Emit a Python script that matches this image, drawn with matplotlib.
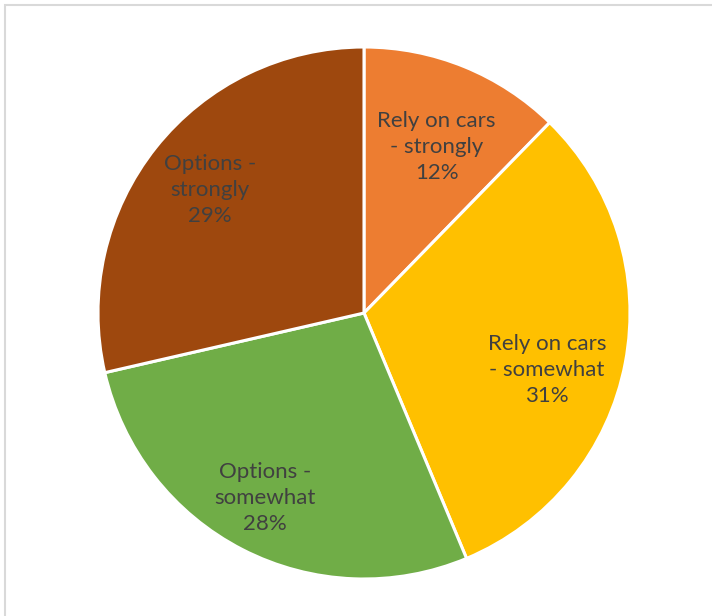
import matplotlib.pyplot as plt
import numpy as np

# slice labels and shares (clockwise from top)
labels = ["Rely on cars\n- strongly", "Rely on cars\n- somewhat", "Options -\nsomewhat", "Options -\nstrongly"]
shares = [12.3, 31.4, 27.7, 28.6]
colors = ["#ED7D31", "#FFC000", "#70AD47", "#9E480E"]

fig = plt.figure(figsize=(7.12, 6.16), dpi=100)
# light chart border
fig.patches.append(plt.Rectangle((5 / 712, -0.1), 1.2, 1 - 5 / 616 + 0.1, transform=fig.transFigure,
                                 fill=False, edgecolor="#d9d9d9", linewidth=1.5))

ax = fig.add_axes([98 / 712, 37 / 616, 532 / 712, 532 / 616])
wedges, _ = ax.pie(shares, colors=colors, startangle=90, counterclock=False, radius=1,
                   wedgeprops=dict(edgecolor="white", linewidth=2.2))
ax.set_xlim(-1, 1)
ax.set_ylim(-1, 1)

# label placement (distance from centre, angle nudge in degrees)
dist = [0.68, 0.72, 0.79, 0.74]
nudge = [-1.5, -6.5, -1.0, 0.0]
total = sum(shares)
for w, lab, v, d, n in zip(wedges, labels, shares, dist, nudge):
    ang = np.deg2rad((w.theta1 + w.theta2) / 2 + n)
    ax.text(d * np.cos(ang), d * np.sin(ang), f"{lab}\n{round(v / total * 100):.0f}%",
            ha="center", va="center", fontsize=16, color="#404040", family="Lato",
            linespacing=1.38)

fig.savefig("out.png", dpi=100)
